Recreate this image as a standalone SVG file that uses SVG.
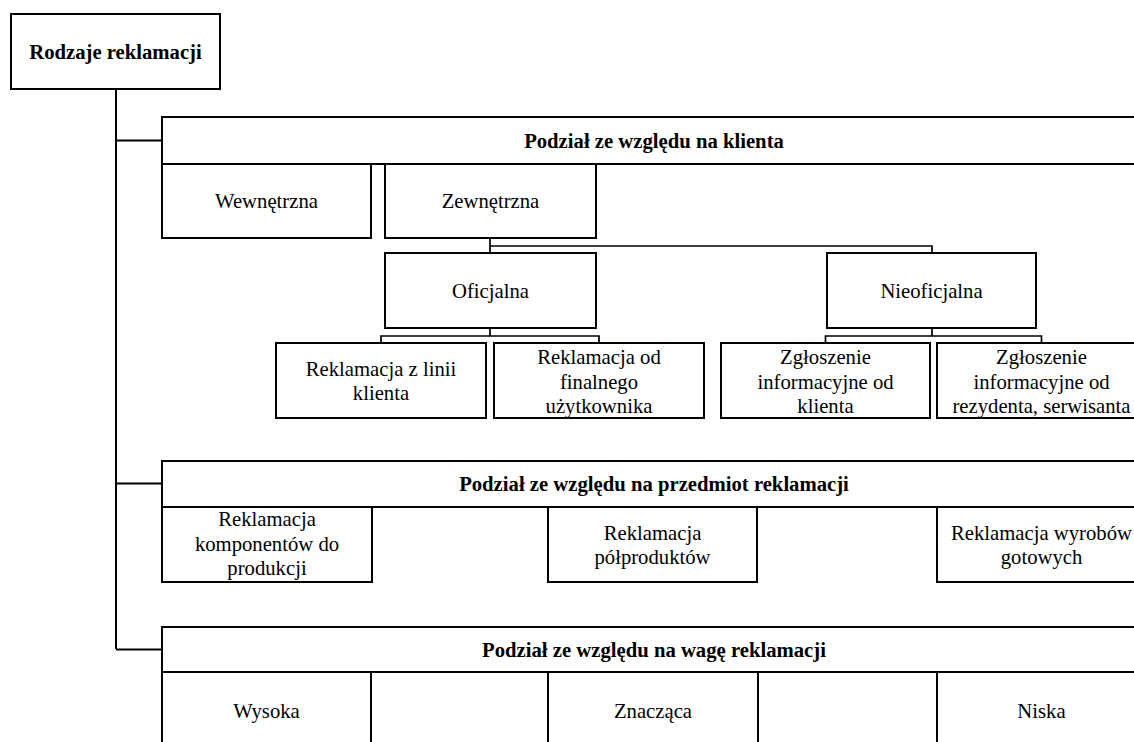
<svg xmlns="http://www.w3.org/2000/svg" width="1134" height="742" viewBox="0 0 1134 742">
<style>
.box{fill:#fff;stroke:#000;stroke-width:2}
.c{fill:none;stroke:#000;stroke-width:2}
.cs{fill:none;stroke:#000;stroke-width:1.7}
text{font-family:"Liberation Serif","Times New Roman",serif;font-size:20.7px;fill:#000;text-anchor:middle}
.b{font-weight:bold}
</style>
<rect width="1134" height="742" fill="#fff"/>
<g id="connectors">
<path class="c" d="M116,89 V649 M116,140.5 H162 M116,483.5 H162 M116,649.5 H162"/>
<path class="cs" d="M490,238 V253 M490,246 H932 V253"/>
<path class="cs" d="M490,328 V336 M381,343 V336 H599 V343"/>
<path class="cs" d="M932,328 V336 M825.5,343 V336 H1041.5 V343"/>
</g>
<g id="root">
<rect class="box" x="11" y="14" width="209" height="75"/>
<text class="b" x="115.5" y="58.5">Rodzaje reklamacji</text>
</g>
<g id="hdr-klient">
<rect class="box" x="162" y="117" width="984" height="47"/>
<text class="b" x="654" y="147.5">Podział ze względu na klienta</text>
</g>
<g id="wewnetrzna">
<rect class="box" x="162" y="164" width="209" height="74"/>
<text x="266.5" y="208.2">Wewnętrzna</text>
</g>
<g id="zewnetrzna">
<rect class="box" x="385" y="164" width="211" height="74"/>
<text x="490.5" y="208.2">Zewnętrzna</text>
</g>
<g id="oficjalna">
<rect class="box" x="385" y="253" width="211" height="75"/>
<text x="490.5" y="297.5">Oficjalna</text>
</g>
<g id="nieoficjalna">
<rect class="box" x="827" y="253" width="209" height="75"/>
<text x="931.5" y="297.5">Nieoficjalna</text>
</g>
<g id="linia">
<rect class="box" x="276" y="343" width="210" height="75"/>
<text x="381" y="375.5">Reklamacja z linii</text>
<text x="381" y="400">klienta</text>
</g>
<g id="finalny">
<rect class="box" x="494" y="343" width="210" height="75"/>
<text x="599" y="364">Reklamacja od</text>
<text x="599" y="388.5">finalnego</text>
<text x="599" y="413">użytkownika</text>
</g>
<g id="zgl-klient">
<rect class="box" x="721" y="343" width="209" height="75"/>
<text x="825.5" y="364">Zgłoszenie</text>
<text x="825.5" y="388.5">informacyjne od</text>
<text x="825.5" y="413">klienta</text>
</g>
<g id="zgl-rezydent">
<rect class="box" x="937" y="343" width="209" height="75"/>
<text x="1041.5" y="364">Zgłoszenie</text>
<text x="1041.5" y="388.5">informacyjne od</text>
<text x="1041.5" y="413">rezydenta, serwisanta</text>
</g>
<g id="hdr-przedmiot">
<rect class="box" x="162" y="461" width="984" height="46"/>
<text class="b" x="654" y="491">Podział ze względu na przedmiot reklamacji</text>
</g>
<g id="komponenty">
<rect class="box" x="162" y="507" width="210" height="75"/>
<text x="267" y="526">Reklamacja</text>
<text x="267" y="550.5">komponentów do</text>
<text x="267" y="575">produkcji</text>
</g>
<g id="polprodukty">
<rect class="box" x="548" y="507" width="209" height="75"/>
<text x="652.5" y="539.5">Reklamacja</text>
<text x="652.5" y="564">półproduktów</text>
</g>
<g id="wyroby">
<rect class="box" x="937" y="507" width="209" height="75"/>
<text x="1041.5" y="539.5">Reklamacja wyrobów</text>
<text x="1041.5" y="564">gotowych</text>
</g>
<g id="hdr-waga">
<rect class="box" x="162" y="627" width="984" height="45"/>
<text class="b" x="654" y="656.5">Podział ze względu na wagę reklamacji</text>
</g>
<g id="wysoka">
<rect class="box" x="162" y="672" width="209" height="80"/>
<text x="266.5" y="718">Wysoka</text>
</g>
<g id="znaczaca">
<rect class="box" x="548" y="672" width="210" height="80"/>
<text x="653" y="718">Znacząca</text>
</g>
<g id="niska">
<rect class="box" x="937" y="672" width="209" height="80"/>
<text x="1041.5" y="718">Niska</text>
</g>
</svg>
